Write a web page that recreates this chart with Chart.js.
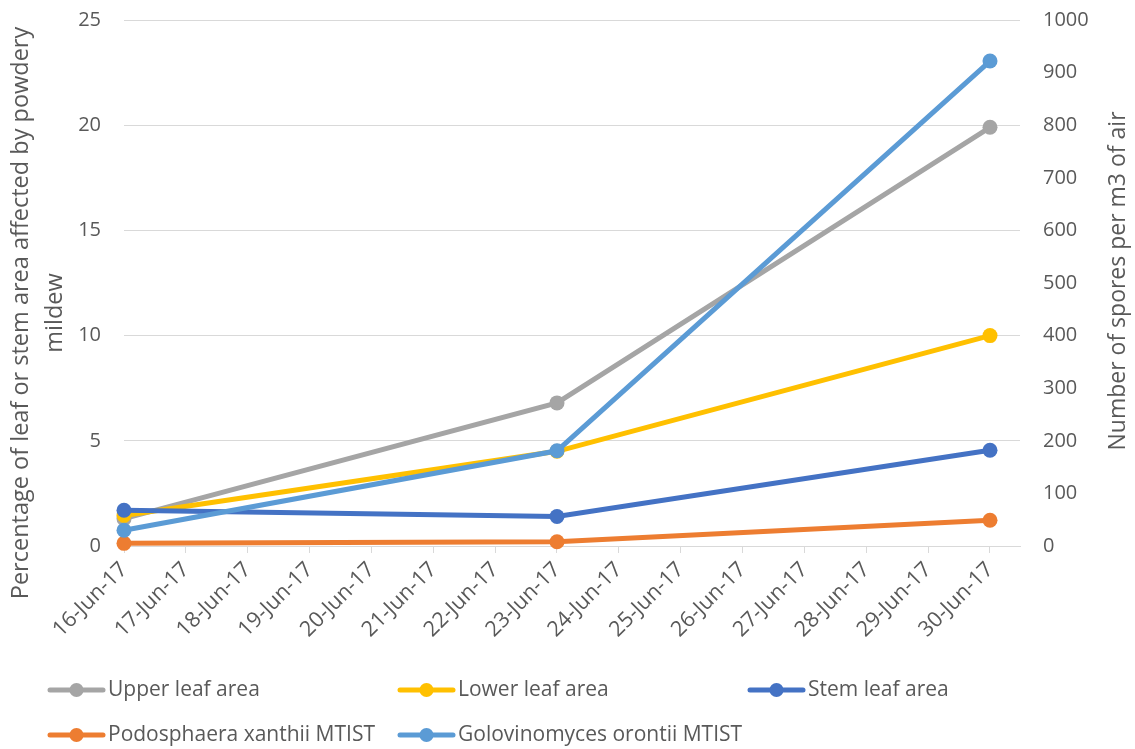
<!DOCTYPE html>
<html>
<head>
<meta charset="utf-8">
<script src="https://cdn.jsdelivr.net/npm/chart.js@4.4.1/dist/chart.umd.min.js"></script>
<style>
html,body{margin:0;padding:0;background:#fff;}
#wrap{position:relative;width:1135px;height:749px;}
</style>
</head>
<body>
<div id="wrap"><canvas id="c" width="1135" height="749"></canvas></div>
<script>
const tickLabels = ['16-Jun-17','17-Jun-17','18-Jun-17','19-Jun-17','20-Jun-17','21-Jun-17','22-Jun-17','23-Jun-17','24-Jun-17','25-Jun-17','26-Jun-17','27-Jun-17','28-Jun-17','29-Jun-17','30-Jun-17'];
const sampleDates = ['16-Jun-17','23-Jun-17','30-Jun-17'];
const upperLeaf = [1.3, 6.8, 19.9];
const lowerLeaf = [1.45, 4.5, 10.0];
const stemLeaf = [1.7, 1.4, 4.55];
const podosphaera = [5, 8, 49];
const golovinomyces = [30, 181, 922];
const seriesNames = ['Upper leaf area','Lower leaf area','Stem leaf area','Podosphaera xanthii MTIST','Golovinomyces orontii MTIST'];
const leftTitle = ['Percentage of leaf or stem area affected by powdery','mildew'];
const rightTitle = 'Number of spores per m3 of air';

const FONT = "'Open Sans', sans-serif";
const TXT = '#595959';
const GRID = '#d9d9d9';

function pts(vals){ return sampleDates.map((d,i)=>({x: tickLabels.indexOf(d), y: vals[i]})); }
function ds(label, vals, color, axis, order){
  return {label, data: pts(vals), borderColor: color, backgroundColor: color, yAxisID: axis,
    borderWidth: 5, pointRadius: 7.5, pointHoverRadius: 7.5, pointBorderWidth: 0, tension: 0, clip: false, order};
}

const titlesLegend = {
  id: 'titlesLegend',
  afterDraw(chart){
    const ctx = chart.ctx;
    ctx.save();
    ctx.fillStyle = TXT;
    ctx.font = '23.5px ' + FONT;
    ctx.textAlign = 'center';
    ctx.textBaseline = 'middle';
    const lx = [21, 55];
    leftTitle.forEach((t,i)=>{
      ctx.save(); ctx.translate(lx[i], 313); ctx.rotate(-Math.PI/2); ctx.fillText(t,0,0); ctx.restore();
    });
    ctx.font = '23px ' + FONT;
    ctx.save(); ctx.translate(1118, 281); ctx.rotate(-Math.PI/2); ctx.fillText(rightTitle,0,0); ctx.restore();

    // legend
    const cols = [48, 398, 748], rows = [690, 735];
    ctx.font = '21px ' + FONT;
    ctx.textAlign = 'left';
    chart.data.datasets.forEach((d,i)=>{
      const x = cols[i%3], y = rows[Math.floor(i/3)];
      ctx.strokeStyle = d.borderColor; ctx.lineWidth = 5; ctx.lineCap = 'round';
      ctx.beginPath(); ctx.moveTo(x+2, y); ctx.lineTo(x+55, y); ctx.stroke();
      ctx.fillStyle = d.borderColor;
      ctx.beginPath(); ctx.arc(x+28.5, y, 7, 0, Math.PI*2); ctx.fill();
      ctx.fillStyle = TXT;
      ctx.fillText(d.label, x+60, y);
    });
    ctx.restore();
  }
};

function fixV(w){ return s => { s.width = w; s.paddingTop = 0; s.paddingBottom = 0; }; }

new Chart(document.getElementById('c'), {
  type: 'line',
  data: {
    datasets: [
      ds(seriesNames[0], upperLeaf, '#A5A5A5', 'y', 5),
      ds(seriesNames[1], lowerLeaf, '#FFC000', 'y', 4),
      ds(seriesNames[2], stemLeaf, '#4472C4', 'y', 3),
      ds(seriesNames[3], podosphaera, '#ED7D31', 'y2', 2),
      ds(seriesNames[4], golovinomyces, '#5B9BD5', 'y2', 1)
    ]
  },
  options: {
    responsive: false,
    animation: false,
    layout: { padding: { top: 20, left: 0, right: 0, bottom: 0 } },
    plugins: { legend: { display: false }, tooltip: { enabled: false } },
    scales: {
      x: {
        type: 'linear', min: 0, max: 14.485,
        afterBuildTicks: s => { s.ticks = tickLabels.map((_,i)=>({value:i})); },
        afterFit: s => { s.height = 203; s.paddingLeft = 0; s.paddingRight = 0; },
        ticks: { callback: v => tickLabels[v] ?? '', minRotation: 45, maxRotation: 45, autoSkip: false,
          color: TXT, font: { size: 21.5, family: FONT }, padding: 4 },
        grid: { drawOnChartArea: false, drawTicks: true, tickLength: 7, color: GRID, lineWidth: 1 },
        border: { display: true, color: GRID, width: 1 }
      },
      y: {
        position: 'left', min: 0, max: 25,
        afterFit: fixV(124),
        ticks: { stepSize: 5, color: TXT, font: { size: 20, family: FONT }, padding: 23 },
        grid: { color: GRID, lineWidth: 1, drawTicks: false },
        border: { display: false }
      },
      y2: {
        position: 'right', min: 0, max: 1000,
        afterFit: fixV(115),
        ticks: { stepSize: 100, callback: v => String(v), color: TXT, font: { size: 20, family: FONT }, padding: 23 },
        grid: { drawOnChartArea: false, drawTicks: false },
        border: { display: false }
      }
    }
  },
  plugins: [titlesLegend]
});
</script>
</body>
</html>
